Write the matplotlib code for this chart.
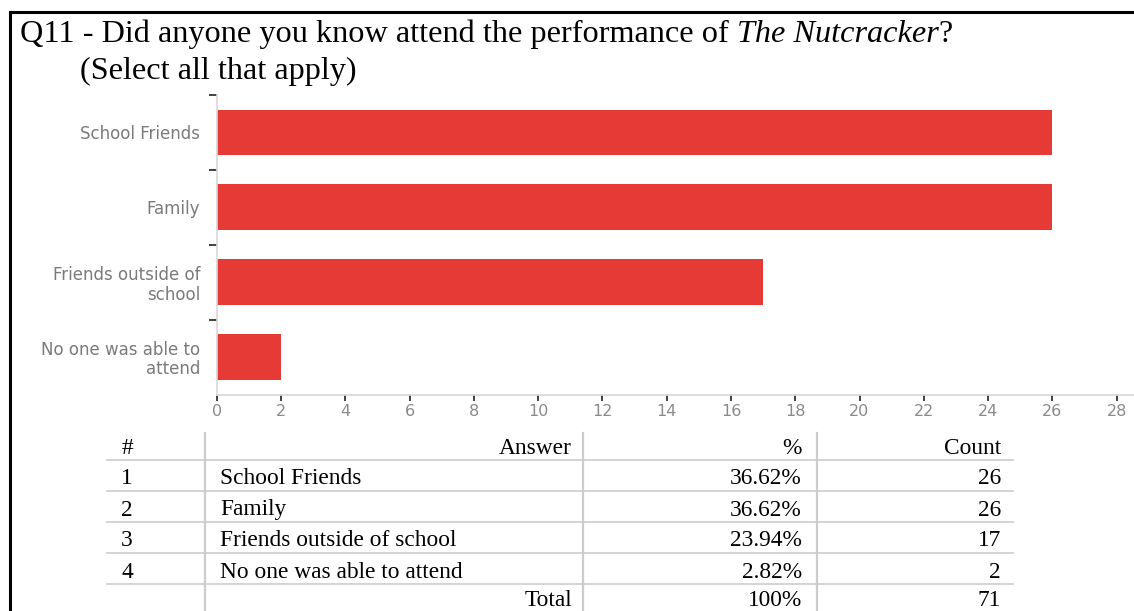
import matplotlib
matplotlib.use("Agg")
import matplotlib.pyplot as plt
from matplotlib.lines import Line2D

# Survey data
question = "Q11 - Did anyone you know attend the performance of "
show_title = "The Nutcracker"
subtitle = "(Select all that apply)"
answers = ["School Friends", "Family", "Friends outside of school", "No one was able to attend"]
axis_labels = ["School Friends", "Family", "Friends outside of\nschool", "No one was able to\nattend"]
counts = [26, 26, 17, 2]
percents = ["36.62%", "36.62%", "23.94%", "2.82%"]
total_pct = "100%"
total_count = 71
x_ticks = list(range(0, 30, 2))

W, H = 1134, 611
fig = plt.figure(figsize=(W / 100, H / 100), dpi=100)


def fx(px):
    return px / W


def fy(py):
    return 1 - py / H


# Outer frame (top and left edges)
fig.add_artist(Line2D([fx(9.5), fx(9.5)], [fy(11.5), fy(H + 5)], color="black", lw=2.2,
                      transform=fig.transFigure))
fig.add_artist(Line2D([fx(9.5), fx(W + 5)], [fy(11.5), fy(11.5)], color="black", lw=2.2,
                      transform=fig.transFigure))

# Title
serif = ["Liberation Serif", "DejaVu Serif"]
tsize = 23.2
t = fig.text(fx(20), fy(42), question, fontsize=tsize, family=serif, va="baseline", ha="left")
fig.canvas.draw()
bb = t.get_window_extent()
t2 = fig.text(bb.x1 / W, fy(42), show_title, fontsize=tsize, family=serif, style="italic",
              va="baseline", ha="left")
fig.canvas.draw()
bb2 = t2.get_window_extent()
fig.text(bb2.x1 / W, fy(42), "?", fontsize=tsize, family=serif, va="baseline", ha="left")
fig.text(fx(80), fy(79), subtitle, fontsize=tsize, family=serif, va="baseline", ha="left")

# Bar chart
ax_left, ax_top, ax_bottom = 216.7, 95, 394.5
ax = fig.add_axes([fx(ax_left), fy(ax_bottom), 1 - fx(ax_left), (ax_bottom - ax_top) / H])
ypos = list(range(len(counts)))
ax.barh(ypos, counts, height=0.61, color="#e53a35", zorder=2)
ax.set_ylim(len(counts) - 0.5, -0.5)
ax.set_xlim(0, (W - ax_left) / 32.14)

for s in ["top", "right"]:
    ax.spines[s].set_visible(False)
for s in ["left", "bottom"]:
    ax.spines[s].set_color("#d8d8d8")
    ax.spines[s].set_linewidth(1.2)

ax.set_xticks(x_ticks)
ax.set_xticklabels([str(v) for v in x_ticks])
ax.tick_params(axis="x", direction="out", length=4.5, width=1.3, color="#333333",
               labelcolor="#8a8a8a", labelsize=11.5, pad=2)

ax.set_yticks([-0.5, 0.5, 1.5, 2.5])
ax.set_yticklabels([])
ax.tick_params(axis="y", which="major", direction="out", length=6, width=1.3, color="#333333")
ax.set_yticks(ypos, minor=True)
ax.set_yticklabels(axis_labels, minor=True)
ax.tick_params(axis="y", which="minor", length=0, pad=12, labelcolor="#7a7a7a", labelsize=12)
for lab in ax.get_yticklabels(minor=True):
    lab.set_horizontalalignment("right")
    lab.set_linespacing(1.1)

# Summary table
col_lines = [205, 583, 817]
row_lines = [460, 491, 522, 553, 584]
line_x0, line_x1 = 107, 1013
tcolor = "#cccccc"
for x in col_lines:
    fig.add_artist(Line2D([fx(x), fx(x)], [fy(433), fy(H + 5)], color=tcolor, lw=1.6,
                          transform=fig.transFigure))
for y in row_lines:
    fig.add_artist(Line2D([fx(line_x0), fx(line_x1)], [fy(y), fy(y)], color=tcolor, lw=1.2,
                          transform=fig.transFigure))

fs = 16.8
row_y = [449, 479, 510, 541, 572, 601]


def cell(x, y, s, ha):
    fig.text(fx(x), fy(y), s, fontsize=fs, family=serif, ha=ha, va="center")


cell(127, row_y[0], "#", "center")
cell(572, row_y[0], "Answer", "right")
cell(802, row_y[0], "%", "right")
cell(1001, row_y[0], "Count", "right")
for i, (a, p, c) in enumerate(zip(answers, percents, counts)):
    y = row_y[i + 1]
    cell(127, y, str(i + 1), "center")
    cell(220, y, a, "left")
    cell(802, y, p, "right")
    cell(1001, y, str(c), "right")
cell(572, row_y[5], "Total", "right")
cell(802, row_y[5], total_pct, "right")
cell(1001, row_y[5], str(total_count), "right")

fig.savefig("out.png", dpi=100)
